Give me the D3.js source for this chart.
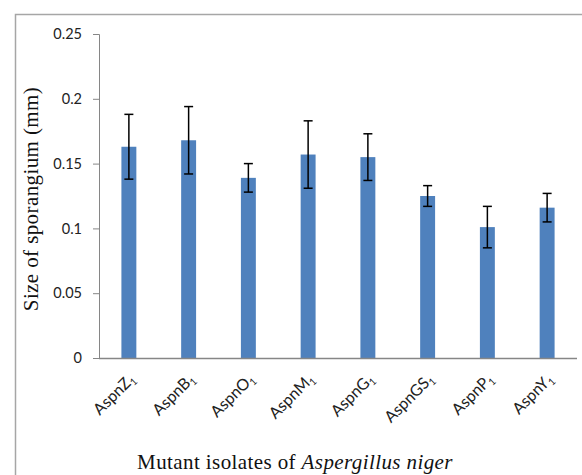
<!DOCTYPE html>
<html>
<head>
<meta charset="utf-8">
<script src="https://cdn.jsdelivr.net/npm/d3@7"></script>
<style>
  body { margin: 0; background: #fff; }
  svg { display: block; }
</style>
</head>
<body>
<svg id="chart" width="582" height="475"></svg>
<script>
var isolates = ['AspnZ', 'AspnB', 'AspnO', 'AspnM', 'AspnG', 'AspnGS', 'AspnP', 'AspnY']
var sizes = [0.163, 0.168, 0.139, 0.157, 0.155, 0.125, 0.101, 0.116]
var errors = [0.025, 0.026, 0.011, 0.026, 0.018, 0.008, 0.016, 0.011]
var yTicks = [0, 0.05, 0.1, 0.15, 0.2, 0.25]

var margin = { left: 99, top: 34, right: 5, bottom: 117 }
var width = 582, height = 475

var svg = d3.select('#chart')

// outer chart frame (runs off the right and bottom edges)
svg.append('rect')
    .attr('x', 15.5)
    .attr('y', 14.5)
    .attr('width', 600)
    .attr('height', 500)
    .attr('fill', 'none')
    .attr('stroke', '#a6a6a6')
    .attr('stroke-width', 1.5)

var x = d3.scaleBand()
    .domain(isolates)
    .range([margin.left, width - margin.right])
    .paddingInner(0.75)
    .paddingOuter(0.375)

var y = d3.scaleLinear()
    .domain([0, 0.25])
    .range([height - margin.bottom, margin.top])

// y axis
var yAxis = svg.append('g')
    .attr('transform', `translate(${margin.left}, 0)`)
    .call(d3.axisLeft(y).tickValues(yTicks).tickSize(6).tickPadding(11)
      .tickFormat(d => d === 0 ? '0' : String(+d.toFixed(2))))

yAxis.select('.domain').attr('stroke', '#868686')
yAxis.selectAll('.tick line').attr('stroke', '#868686')
yAxis.selectAll('.tick text')
    .attr('font-family', 'Lato, "Open Sans", sans-serif')
    .attr('font-size', 14.5)
    .attr('fill', '#222')

// bars
svg.selectAll('rect.bar')
    .data(isolates)
    .enter()
    .append('rect')
    .attr('class', 'bar')
    .attr('x', d => x(d))
    .attr('width', x.bandwidth())
    .attr('y', (d, i) => y(sizes[i]))
    .attr('height', (d, i) => y(0) - y(sizes[i]))
    .attr('fill', '#4f81bd')

// x axis line
svg.append('line')
    .attr('x1', margin.left)
    .attr('x2', width - margin.right)
    .attr('y1', y(0) + 0.5)
    .attr('y2', y(0) + 0.5)
    .attr('stroke', '#868686')
    .attr('stroke-width', 1.5)

// error bars
var err = svg.selectAll('g.err')
    .data(isolates)
    .enter()
    .append('g')
    .attr('class', 'err')
    .attr('stroke', '#000')
    .attr('stroke-width', 1.5)

var cx = d => x(d) + x.bandwidth() / 2

err.append('line')
    .attr('x1', cx).attr('x2', cx)
    .attr('y1', (d, i) => y(sizes[i] + errors[i]))
    .attr('y2', (d, i) => y(sizes[i] - errors[i]))
err.append('line')
    .attr('x1', d => cx(d) - 4.5).attr('x2', d => cx(d) + 4.5)
    .attr('y1', (d, i) => y(sizes[i] + errors[i]))
    .attr('y2', (d, i) => y(sizes[i] + errors[i]))
err.append('line')
    .attr('x1', d => cx(d) - 4.5).attr('x2', d => cx(d) + 4.5)
    .attr('y1', (d, i) => y(sizes[i] - errors[i]))
    .attr('y2', (d, i) => y(sizes[i] - errors[i]))

// category labels, rotated with subscript 1
var labels = svg.selectAll('text.cat')
    .data(isolates)
    .enter()
    .append('text')
    .attr('class', 'cat')
    .attr('text-anchor', 'end')
    .attr('font-family', 'Lato, "Open Sans", sans-serif')
    .attr('font-size', 16)
    .attr('fill', '#222')
    .attr('transform', d => `translate(${cx(d) + 7}, ${y(0) + 22}) rotate(-45)`)

labels.append('tspan').text(d => d)
labels.append('tspan')
    .attr('font-size', 10)
    .attr('dy', 3)
    .text('1')

// axis titles
svg.append('text')
    .attr('text-anchor', 'middle')
    .attr('font-family', '"Liberation Serif", "Times New Roman", serif')
    .attr('font-size', 21)
    .attr('letter-spacing', 0.4)
    .attr('fill', '#111')
    .attr('transform', `translate(38, 199) rotate(-90)`)
    .text('Size of sporangium (mm)')

var xTitle = svg.append('text')
    .attr('text-anchor', 'middle')
    .attr('font-family', '"Liberation Serif", "Times New Roman", serif')
    .attr('font-size', 21)
    .attr('letter-spacing', 0.4)
    .attr('fill', '#111')
    .attr('x', 295)
    .attr('y', 469)

xTitle.append('tspan').text('Mutant isolates of ')
xTitle.append('tspan').attr('font-style', 'italic').text('Aspergillus niger')
</script>
</body>
</html>
